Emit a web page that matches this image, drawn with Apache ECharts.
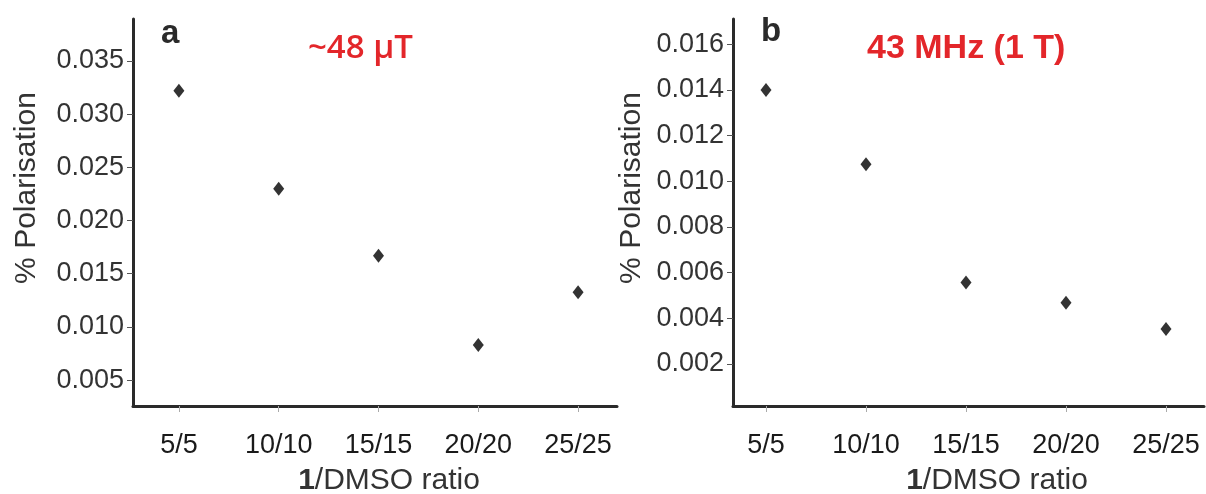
<!DOCTYPE html>
<html>
<head>
<meta charset="utf-8">
<script src="https://cdn.jsdelivr.net/npm/echarts@6/dist/echarts.min.js"></script>
<style>
  html, body { margin: 0; padding: 0; background: #fff; }
  #grafico { width: 1206px; height: 494px; }
</style>
</head>
<body>
<div id="grafico"></div>
<script>
// 1/DMSO ratio categories
var ratios = ['5/5', '10/10', '15/15', '20/20', '25/25'];

// % polarisation, panel a (~48 uT) and panel b (43 MHz, 1 T)
var polLowField = [0.03221, 0.02299, 0.01669, 0.00829, 0.01325];
var polHighField = [0.01399, 0.01074, 0.00557, 0.00468, 0.00353];

// y tick labels
var ticksA = [0.005, 0.010, 0.015, 0.020, 0.025, 0.030, 0.035];
var ticksB = [0.002, 0.004, 0.006, 0.008, 0.010, 0.012, 0.014, 0.016];

var catIdx = ratios.map(function (r, i) { return i; });

var chartDom = document.getElementById('grafico');
var myChart = echarts.init(chartDom, null, { renderer: 'canvas' });

var FONT = 'Liberation Sans, Arial, sans-serif';
var AXIS_COLOR = '#2a2a2a';

function xAxisFor(grid, min, max, shift) {
    return {
        type: 'value',
        gridIndex: grid,
        min: min,
        max: max,
        splitLine: { show: false },
        axisLine: { show: true, onZero: false, lineStyle: { color: AXIS_COLOR, width: 3 } },
        axisTick: { show: true, length: 6, customValues: catIdx, lineStyle: { color: '#aaa', width: 1 } },
        axisLabel: {
            customValues: catIdx,
            margin: 26,
            fontFamily: FONT,
            fontSize: 27,
            color: '#1a1a1a',
            formatter: function (v) { return ratios[Math.round(v)]; }
        },
        name: '{b|1}/DMSO ratio',
        nameLocation: 'middle',
        nameGap: 60,
        nameTextStyle: {
            fontFamily: FONT,
            fontSize: 30,
            color: '#333',
            padding: [0, 0, 0, shift],
            rich: { b: { fontFamily: FONT, fontSize: 30, fontWeight: 'bold', color: '#333' } }
        }
    };
}

function yAxisFor(grid, min, max, ticks, gap) {
    return {
        type: 'value',
        gridIndex: grid,
        min: min,
        max: max,
        splitLine: { show: false },
        axisLine: { show: true, onZero: false, lineStyle: { color: AXIS_COLOR, width: 3 } },
        axisTick: { show: true, length: 6, customValues: ticks, lineStyle: { color: '#555', width: 1 } },
        axisLabel: {
            customValues: ticks,
            margin: 9,
            fontFamily: FONT,
            fontSize: 27,
            color: '#333',
            formatter: function (v) { return v.toFixed(3); }
        },
        name: '% Polarisation',
        nameLocation: 'middle',
        nameGap: gap,
        nameTextStyle: {
            fontFamily: FONT,
            fontSize: 30,
            color: '#333',
            padding: [0, 0, 0, 49]
        }
    };
}

var option = {
    animation: false,
    backgroundColor: '#fff',
    grid: [
        { left: 133, top: 19, width: 484, height: 387, containLabel: false, outerBoundsMode: 'none' },
        { left: 733, top: 19, width: 471, height: 387, containLabel: false, outerBoundsMode: 'none' }
    ],
    xAxis: [
        xAxisFor(0, -0.46, 4.39, 28),
        xAxisFor(1, -0.33, 4.38, 57)
    ],
    yAxis: [
        yAxisFor(0, 0.00256, 0.03895, ticksA, 91),
        yAxisFor(1, 0.00016, 0.0171, ticksB, 86)
    ],
    graphic: [
        { type: 'text', left: 161, top: 17, style: { text: 'a', font: 'bold 33px ' + FONT, fill: '#2a2a2a' } },
        { type: 'text', left: 761, top: 15, style: { text: 'b', font: 'bold 33px ' + FONT, fill: '#2a2a2a' } },
        { type: 'text', left: 308, top: 32, style: { text: '~48 \u00b5T', font: '600 33px Open Sans, ' + FONT, fill: '#e3262a' } },
        { type: 'text', left: 867, top: 32, style: { text: '43 MHz (1 T)', font: 'bold 34px ' + FONT, fill: '#e3262a' } }
    ],
    series: [
        {
            type: 'scatter',
            xAxisIndex: 0,
            yAxisIndex: 0,
            symbol: 'diamond',
            symbolSize: [11, 14],
            itemStyle: { color: '#000' },
            data: polLowField.map(function (v, i) { return [catIdx[i], v]; })
        },
        {
            type: 'scatter',
            xAxisIndex: 1,
            yAxisIndex: 1,
            symbol: 'diamond',
            symbolSize: [11, 14],
            itemStyle: { color: '#000' },
            data: polHighField.map(function (v, i) { return [catIdx[i], v]; })
        }
    ]
};

myChart.setOption(option);
</script>
</body>
</html>
